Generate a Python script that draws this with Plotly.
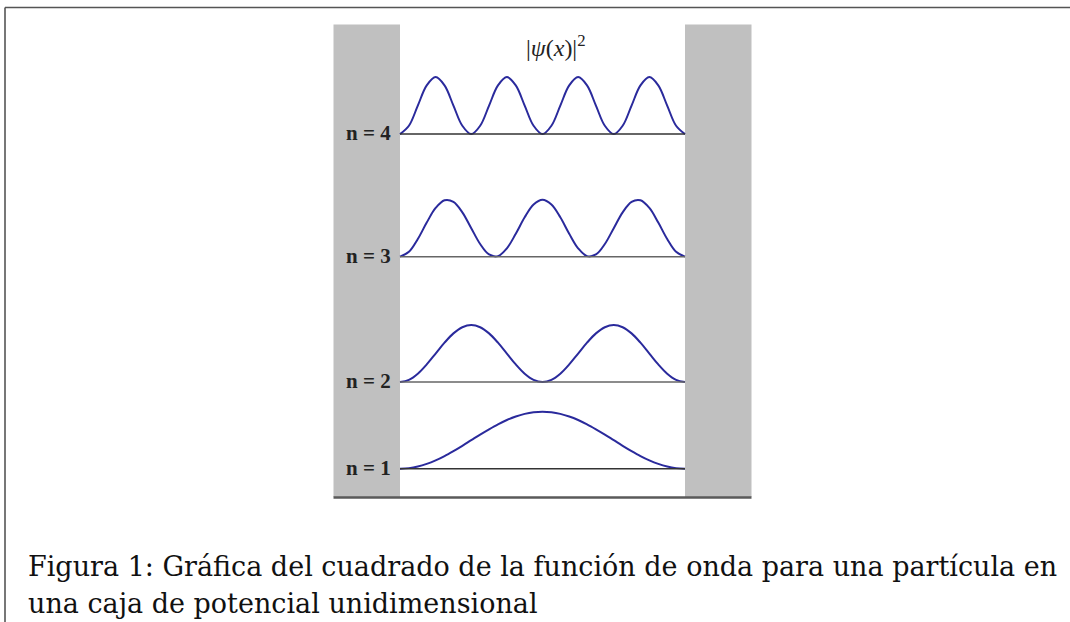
import plotly.graph_objects as go

# ---- data ----
levels = ["n = 1", "n = 2", "n = 3", "n = 4"]
# baseline offsets of each level (in units of the peak height)
baselines = [0.0, 1.52, 3.72, 5.87]
# sample positions across the box (fraction of box width)
x_grid = [i / 32 for i in range(33)]
# |psi|^2 values (normalized peak = 1)
psi1 = [0.000, 0.010, 0.038, 0.084, 0.146, 0.222, 0.309, 0.402, 0.500, 0.598, 0.691, 0.778, 0.854, 0.916, 0.962, 0.990, 1.000,
        0.990, 0.962, 0.916, 0.854, 0.778, 0.691, 0.598, 0.500, 0.402, 0.309, 0.222, 0.146, 0.084, 0.038, 0.010, 0.000]
psi2 = [0.000, 0.038, 0.146, 0.309, 0.500, 0.691, 0.854, 0.962, 1.000, 0.962, 0.854, 0.691, 0.500, 0.309, 0.146, 0.038, 0.000,
        0.038, 0.146, 0.309, 0.500, 0.691, 0.854, 0.962, 1.000, 0.962, 0.854, 0.691, 0.500, 0.309, 0.146, 0.038, 0.000]
psi3 = [0.000, 0.084, 0.309, 0.598, 0.854, 0.990, 0.962, 0.778, 0.500, 0.222, 0.038, 0.010, 0.146, 0.402, 0.691, 0.916, 1.000,
        0.916, 0.691, 0.402, 0.146, 0.010, 0.038, 0.222, 0.500, 0.778, 0.962, 0.990, 0.854, 0.598, 0.309, 0.084, 0.000]
psi4 = [0.000, 0.146, 0.500, 0.854, 1.000, 0.854, 0.500, 0.146, 0.000, 0.146, 0.500, 0.854, 1.000, 0.854, 0.500, 0.146, 0.000,
        0.146, 0.500, 0.854, 1.000, 0.854, 0.500, 0.146, 0.000, 0.146, 0.500, 0.854, 1.000, 0.854, 0.500, 0.146, 0.000]
curves = [psi1, psi2, psi3, psi4]
title_text = "|<i>ψ</i>(<i>x</i>)|<sup>2</sup>"
caption_lines = ["Figura 1: Gráfica del cuadrado de la función de onda para una partícula en",
                 "una caja de potencial unidimensional"]

# ---- geometry (pixels) ----
W, H = 1070, 622
box_left, box_right = 400, 685
px_per_x = box_right - box_left
y0_px = 468.7   # baseline n=1 pixel row
px_per_y = 57.0

x_range = [-box_left / px_per_x, (W - box_left) / px_per_x]
y_range = [(y0_px - H) / px_per_y, y0_px / px_per_y]

def xpx(p):
    return (p - box_left) / px_per_x

def ypx(p):
    return (y0_px - p) / px_per_y

fig = go.Figure()

wall = "#c0c0c0"
shapes = []
# walls
shapes.append(dict(type="rect", xref="x", yref="y", x0=xpx(333.5), x1=0, y0=ypx(497), y1=ypx(24.5),
                   fillcolor=wall, line=dict(width=0), layer="below"))
shapes.append(dict(type="rect", xref="x", yref="y", x0=1, x1=xpx(751.5), y0=ypx(497), y1=ypx(24.5),
                   fillcolor=wall, line=dict(width=0), layer="below"))
# floor
shapes.append(dict(type="line", xref="x", yref="y", x0=xpx(333.5), x1=xpx(751.5), y0=ypx(497.5), y1=ypx(497.5),
                   line=dict(color="#5a5a5a", width=2.5)))
# frame lines
shapes.append(dict(type="line", xref="paper", yref="paper", x0=5 / W, x1=1, y0=1 - 7.5 / H, y1=1 - 7.5 / H,
                   line=dict(color="#555555", width=1.6)))
shapes.append(dict(type="line", xref="paper", yref="paper", x0=5 / W, x1=5 / W, y0=0, y1=1 - 7.5 / H,
                   line=dict(color="#555555", width=1.6)))

base_colors = ["#333333", "#666666", "#666666", "#333333"]
for lvl, b, bc in zip(levels, baselines, base_colors):
    shapes.append(dict(type="line", xref="x", yref="y", x0=0, x1=1, y0=b, y1=b,
                       line=dict(color=bc, width=1.5)))

for name, b, vals in zip(levels, baselines, curves):
    fig.add_trace(go.Scatter(x=x_grid, y=[b + v for v in vals], mode="lines", name=name,
                             line=dict(color="#2a2a9c", width=2, shape="spline", smoothing=1.0),
                             hoverinfo="skip", showlegend=False))

annotations = []
for name, b in zip(levels, baselines):
    annotations.append(dict(x=0, y=b, xref="x", yref="y", text="<b>" + name + "</b>",
                            showarrow=False, xanchor="right", yanchor="middle", xshift=-7, yshift=1,
                            font=dict(family="Liberation Serif", size=21, color="#222222")))
annotations.append(dict(x=xpx(556), y=ypx(46), xref="x", yref="y", text=title_text, showarrow=False,
                        xanchor="center", yanchor="middle",
                        font=dict(family="Liberation Serif", size=24, color="#222222")))
for i, line in enumerate(caption_lines):
    annotations.append(dict(x=26 / W, y=1 - (566 + 37 * i) / H, xref="paper", yref="paper", text=line,
                            showarrow=False, xanchor="left", yanchor="middle",
                            font=dict(family="DejaVu Serif", size=27, color="#111111")))

fig.update_layout(
    width=W, height=H, margin=dict(l=0, r=0, t=0, b=0),
    paper_bgcolor="white", plot_bgcolor="white",
    xaxis=dict(range=x_range, visible=False, fixedrange=True),
    yaxis=dict(range=y_range, visible=False, fixedrange=True),
    shapes=shapes, annotations=annotations, showlegend=False,
)
fig.write_html("out.html", config={"displayModeBar": False},
               post_script="document.body.style.margin='0';document.body.style.overflow='hidden';")
